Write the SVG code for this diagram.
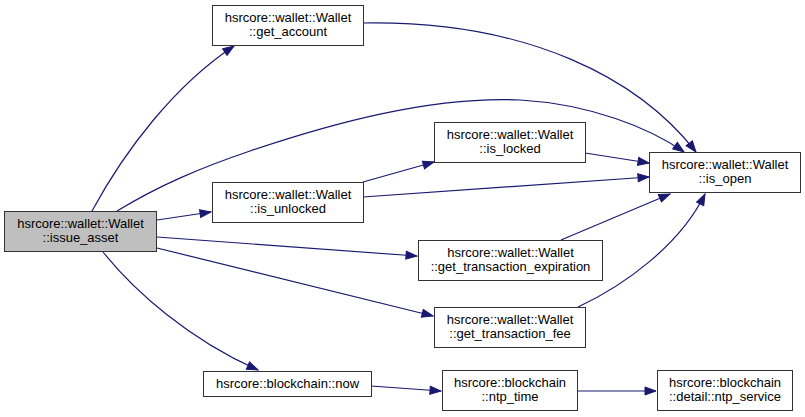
<svg xmlns="http://www.w3.org/2000/svg" width="805" height="417" viewBox="0 0 805 417">
<defs>
<marker id="ah" markerUnits="userSpaceOnUse" markerWidth="13" markerHeight="10" refX="12" refY="5" orient="auto" viewBox="0 0 13 10">
<path d="M1,1 L12,5 L1,9 z" fill="#191970" stroke="#191970" stroke-width="1"/>
</marker>
</defs>
<style>
.n rect{fill:#ffffff;stroke:#333333;stroke-width:1}
.n.cur rect{fill:#bfbfbf}
.n text{font-family:"Liberation Sans",Arial,sans-serif;font-size:13px;fill:#000000;text-anchor:middle}
#edges path{fill:none;stroke:#191970;stroke-width:1.2;marker-end:url(#ah)}
</style>
<rect width="805" height="417" fill="#ffffff"/>
<g id="edges">
<path d="M92,211 C125,150 175,85 234,46"/>
<path d="M117,211 C160,185 200,168 250,151 C330,124 430,96 520,100 C590,104 650,128 684,152"/>
<path d="M363,23 C530,20 640,80 696,152"/>
<path d="M157,220 L211,212"/>
<path d="M157,237 L417,256"/>
<path d="M157,248 L433,316"/>
<path d="M103,252 C135,292 190,340 258,370"/>
<path d="M363,182 L434,162"/>
<path d="M363,197 L649,177"/>
<path d="M585,153 L649,163"/>
<path d="M561,240 L670,194"/>
<path d="M578,307 C625,285 680,245 705,194"/>
<path d="M371,386 L441,391"/>
<path d="M577,391 L656,391"/>
</g>
<g id="issue_asset" class="n cur"><rect x="4.5" y="211.5" width="152" height="40"/><text x="80.5" y="228">hsrcore::wallet::Wallet</text><text x="80.5" y="242">::issue_asset</text></g>
<g id="get_account" class="n"><rect x="212.5" y="5.5" width="151" height="40"/><text x="288" y="22">hsrcore::wallet::Wallet</text><text x="288" y="36">::get_account</text></g>
<g id="is_unlocked" class="n"><rect x="212.5" y="182.5" width="151" height="40"/><text x="288" y="199">hsrcore::wallet::Wallet</text><text x="288" y="213">::is_unlocked</text></g>
<g id="is_locked" class="n"><rect x="434.5" y="122.5" width="151" height="40"/><text x="510" y="139">hsrcore::wallet::Wallet</text><text x="510" y="153">::is_locked</text></g>
<g id="is_open" class="n"><rect x="649.5" y="152.5" width="151" height="40"/><text x="725" y="169">hsrcore::wallet::Wallet</text><text x="725" y="183">::is_open</text></g>
<g id="get_transaction_expiration" class="n"><rect x="418.5" y="240.5" width="184" height="40"/><text x="510.5" y="257">hsrcore::wallet::Wallet</text><text x="510.5" y="271">::get_transaction_expiration</text></g>
<g id="get_transaction_fee" class="n"><rect x="434.5" y="307.5" width="151" height="40"/><text x="510" y="324">hsrcore::wallet::Wallet</text><text x="510" y="338">::get_transaction_fee</text></g>
<g id="now" class="n"><rect x="203.5" y="371.5" width="168" height="25"/><text x="287.5" y="388">hsrcore::blockchain::now</text></g>
<g id="ntp_time" class="n"><rect x="442.5" y="370.5" width="135" height="40"/><text x="510" y="387">hsrcore::blockchain</text><text x="510" y="401">::ntp_time</text></g>
<g id="ntp_service" class="n"><rect x="657.5" y="370.5" width="135" height="40"/><text x="725" y="387">hsrcore::blockchain</text><text x="725" y="401">::detail::ntp_service</text></g>
</svg>
